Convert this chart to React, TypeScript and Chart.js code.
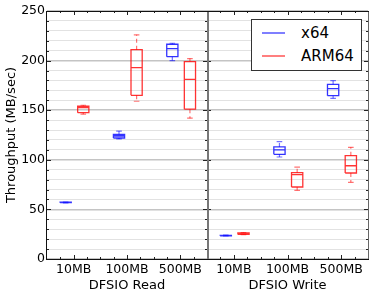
import React, { useEffect, useRef } from "react";
import { Chart, registerables } from "chart.js";
Chart.register(...registerables);

const categories = ["10MB", "100MB", "500MB"];
const seriesNames = ["x64", "ARM64"];
const panelTitles = ["DFSIO Read", "DFSIO Write"];
const yTitle = "Throughput (MB/sec)";

// each box: [min, q1, median, q3, max]
const readX64 = [
  [56.6, 56.8, 57, 57.2, 57.4],
  [121, 122, 124, 125.5, 129],
  [200, 204, 212, 216.5, 217.5],
];
const readARM64 = [
  [146, 147.5, 152.5, 154, 155],
  [159, 165, 193, 211, 226],
  [142, 151, 181, 199, 202],
];
const writeX64 = [
  [23.2, 23.4, 23.6, 23.8, 24],
  [102.8, 105.5, 110, 113, 118.3],
  [162, 164.6, 171.7, 176.1, 179.8],
];
const writeARM64 = [
  [24.5, 24.8, 25.5, 26.3, 26.6],
  [69.2, 72.6, 85, 87, 92.7],
  [77.3, 86.7, 94, 104.2, 112.6],
];

const seriesColors = ["0,0,255", "255,0,0"];
const seriesOffsets = [-0.15, 0.18];
const BOX_W = 0.21;
const FONT = "'DejaVu Sans', sans-serif";

function boxDatasets(boxes: number[][], s: number) {
  const rgb = seriesColors[s];
  const off = seriesOffsets[s];
  const hw = BOX_W / 2;
  const cw = BOX_W / 4;
  const box: any[] = [];
  const whisk: any[] = [];
  const caps: any[] = [];
  boxes.forEach((b, i) => {
    const c = i + 1 + off;
    const [mn, q1, md, q3, mx] = b;
    box.push(
      { x: c - hw, y: q1 }, { x: c + hw, y: q1 }, { x: c + hw, y: q3 },
      { x: c - hw, y: q3 }, { x: c - hw, y: q1 }, { x: c, y: null },
      { x: c - hw, y: md }, { x: c + hw, y: md }, { x: c, y: null }
    );
    whisk.push(
      { x: c, y: q3 }, { x: c, y: mx }, { x: c, y: null },
      { x: c, y: q1 }, { x: c, y: mn }, { x: c, y: null }
    );
    caps.push(
      { x: c - cw, y: mx }, { x: c + cw, y: mx }, { x: c, y: null },
      { x: c - cw, y: mn }, { x: c + cw, y: mn }, { x: c, y: null }
    );
  });
  const common = {
    showLine: true,
    spanGaps: false,
    pointRadius: 0,
    pointHoverRadius: 0,
    fill: false,
    tension: 0,
    label: seriesNames[s],
  };
  return [
    { ...common, data: whisk, borderColor: `rgba(${rgb},0.55)`, borderWidth: 1.2, borderDash: [4, 3] },
    { ...common, data: caps, borderColor: `rgba(${rgb},0.55)`, borderWidth: 1.2 },
    { ...common, data: box, borderColor: `rgba(${rgb},0.8)`, borderWidth: 1.3 },
  ];
}

const framePlugin = {
  id: "frame",
  afterDatasetsDraw(chart: any, _args: any, opts: any) {
    const { ctx, chartArea } = chart;
    const { left, right, top, bottom } = chartArea;
    const xs = chart.scales.x;
    const ys = chart.scales.y;
    ctx.save();
    ctx.fillStyle = "#222";
    for (let v = 0.75; v <= 3.26; v += 0.25) {
      const px = Math.round(xs.getPixelForValue(v));
      const major = Math.abs(v - Math.round(v)) < 1e-6;
      const len = major ? 4 : 2;
      ctx.fillRect(px, bottom - len, 1, len);
      ctx.fillRect(px, top, 1, len);
    }
    for (let v = 10; v < 250; v += 10) {
      const py = Math.round(ys.getPixelForValue(v));
      const len = v % 50 === 0 ? 4 : 2;
      ctx.fillRect(left, py, len, 1);
      ctx.fillRect(right - len, py, len, 1);
    }
    ctx.fillStyle = opts.leftColor;
    ctx.fillRect(left - opts.leftShift, top, opts.leftWidth, bottom - top + 1);
    ctx.fillStyle = opts.rightColor;
    ctx.fillRect(right, top, opts.rightWidth, bottom - top + 1);
    ctx.fillStyle = "#111";
    ctx.fillRect(left - 1, top, right - left + 2, 1);
    ctx.fillRect(left - 1, bottom, right - left + 2, 1);
    ctx.restore();
  },
};

function makeConfig(panel: number, x64: number[][], arm: number[][]) {
  const isLeft = panel === 0;
  return {
    type: "scatter",
    data: {
      datasets: [...boxDatasets(x64, 0), ...boxDatasets(arm, 1)],
    },
    plugins: [framePlugin],
    options: {
      animation: false,
      responsive: false,
      maintainAspectRatio: false,
      events: [],
      layout: { padding: { top: 11, right: isLeft ? 3 : 6, bottom: 0, left: 0 } },
      plugins: {
        legend: { display: false },
        tooltip: { enabled: false },
        frame: isLeft
          ? { leftColor: "#111", leftShift: 1, leftWidth: 1, rightColor: "#777", rightWidth: 1 }
          : { leftColor: "#777", leftShift: 0, leftWidth: 2, rightColor: "#666", rightWidth: 1 },
      },
      scales: {
        x: {
          type: "linear",
          min: 0.5,
          max: 3.5,
          afterBuildTicks: (scale: any) => {
            scale.ticks = categories.map((_, i) => ({ value: i + 1 }));
          },
          afterFit: (scale: any) => {
            scale.height = 38;
          },
          ticks: {
            callback: (v: any) => categories[Math.round(v) - 1] ?? "",
            font: { family: FONT, size: 12.5 },
            color: "#000",
            padding: 3,
            maxRotation: 0,
            autoSkip: false,
          },
          grid: { display: false, drawTicks: false, tickLength: 0 },
          border: { display: false },
          title: {
            display: true,
            text: panelTitles[panel],
            font: { family: FONT, size: 13 },
            color: "#000",
            padding: { top: 0, bottom: 4 },
          },
        },
        y: {
          type: "linear",
          min: 0,
          max: 250,
          afterFit: (scale: any) => {
            scale.width = isLeft ? 47 : 3;
          },
          ticks: {
            display: isLeft,
            stepSize: 10,
            autoSkip: false,
            callback: (v: any) => (v % 50 === 0 ? String(v) : ""),
            font: { family: FONT, size: 12.5 },
            color: "#000",
            padding: 2,
          },
          grid: {
            drawTicks: false,
            color: (c: any) => (c.tick && c.tick.value % 50 === 0 ? "#c4c4c4" : "#e2e2e2"),
            lineWidth: (c: any) => (c.tick && c.tick.value % 50 === 0 ? 1.5 : 1),
          },
          border: { display: false },
          title: {
            display: isLeft,
            text: yTitle,
            font: { family: FONT, size: 13 },
            color: "#000",
            padding: { top: 4, bottom: 0 },
          },
        },
      },
    },
  };
}

export default function App() {
  const leftRef = useRef<HTMLCanvasElement>(null);
  const rightRef = useRef<HTMLCanvasElement>(null);

  useEffect(() => {
    document.body.style.margin = "0";
    const c1 = new Chart(leftRef.current as any, makeConfig(0, readX64, readARM64) as any);
    const c2 = new Chart(rightRef.current as any, makeConfig(1, writeX64, writeARM64) as any);
    return () => {
      c1.destroy();
      c2.destroy();
    };
  }, []);

  return (
    <div style={{ position: "absolute", left: 0, top: 0, width: 374, height: 297, background: "#fff", overflow: "hidden" }}>
      <canvas ref={leftRef} width={210} height={297} style={{ position: "absolute", left: 0, top: 0, width: 210, height: 297 }} />
      <canvas ref={rightRef} width={170} height={297} style={{ position: "absolute", left: 204, top: 0, width: 170, height: 297 }} />
      <div
        style={{
          position: "absolute",
          left: 251,
          top: 19,
          width: 111,
          height: 52,
          boxSizing: "border-box",
          border: "1.5px solid #333",
          background: "#fff",
          fontFamily: FONT,
          fontSize: 15,
          color: "#000",
        }}
      >
        {seriesNames.map((name, s) => (
          <div key={name} style={{ position: "absolute", left: 0, top: s === 0 ? 2 : 25, height: 22, width: "100%" }}>
            <div
              style={{
                position: "absolute",
                left: 10,
                top: 10,
                width: 23,
                height: 1.5,
                background: `rgba(${seriesColors[s]},0.5)`,
              }}
            />
            <div style={{ position: "absolute", left: 49, top: 0, lineHeight: "22px", whiteSpace: "nowrap" }}>{name}</div>
          </div>
        ))}
      </div>
    </div>
  );
}
